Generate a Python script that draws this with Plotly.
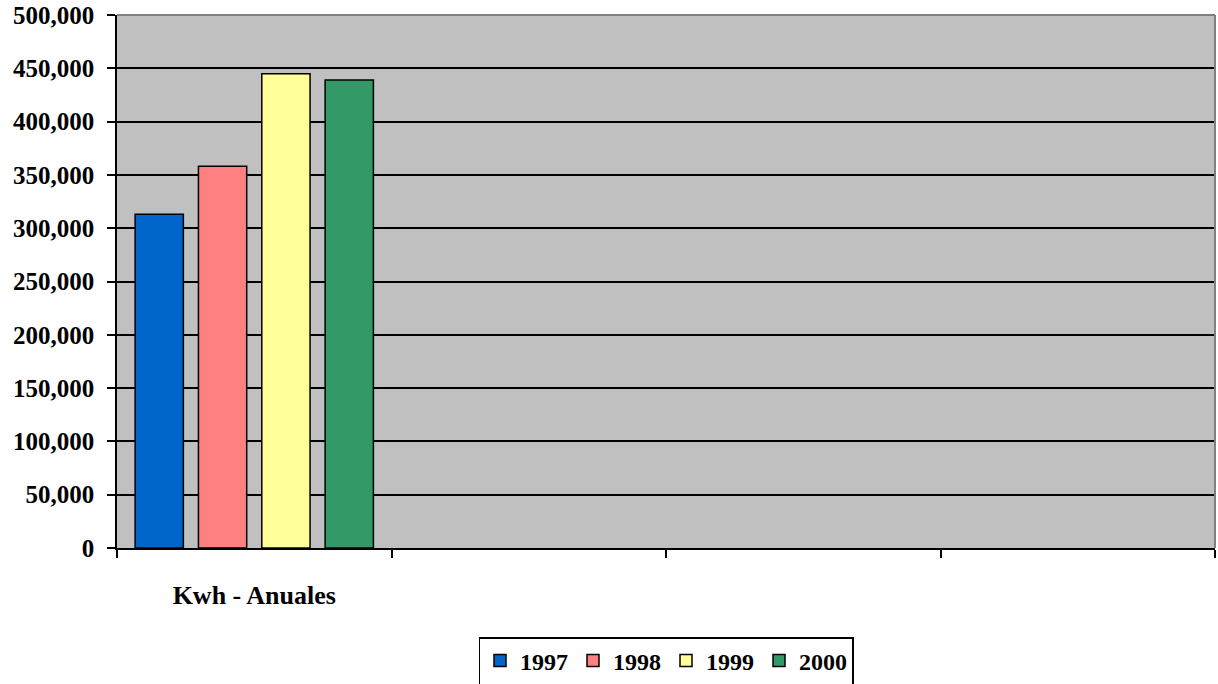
import plotly.graph_objects as go

categories = ["Kwh - Anuales", " ", "  ", "   "]
years = ["1997", "1998", "1999", "2000"]
values = [313000, 358000, 444800, 439000]
colors = ["#0066CC", "#FF8080", "#FFFF99", "#339966"]

FONT = "Liberation Serif, Times New Roman, serif"

fig = go.Figure()
for yr, v, c in zip(years, values, colors):
    fig.add_trace(go.Bar(
        x=[categories[0]], y=[v], name=yr,
        marker=dict(color=c, line=dict(color="black", width=1.5)),
    ))

fig.update_layout(
    width=1218, height=684,
    margin=dict(l=117, r=3, t=15, b=136, autoexpand=False),
    paper_bgcolor="white", plot_bgcolor="#C0C0C0",
    barmode="group", bargap=0.077, bargroupgap=0.238,
    font=dict(family=FONT, size=24, color="black", weight="bold"),
    legend=dict(orientation="h", x=0.5, xanchor="center", y=-0.167, yanchor="top",
                bordercolor="black", borderwidth=1.5, bgcolor="white",
                font=dict(family=FONT, size=24, color="black", weight="bold"),
                itemwidth=30, tracegroupgap=0),
    showlegend=True,
)
fig.update_xaxes(
    type="category", categoryorder="array", categoryarray=categories,
    range=[-0.5, 3.5], tickson="boundaries", ticks="outside", ticklen=8,
    tickcolor="black", tickwidth=1.5, automargin=False,
    showline=True, linecolor="black", linewidth=1.5, showgrid=False,
    ticklabelstandoff=23,
    tickfont=dict(family=FONT, size=26, color="black", weight="bold"),
)
fig.update_yaxes(
    range=[0, 500000], dtick=50000, tickformat=",",
    ticks="outside", ticklen=8, tickcolor="black", tickwidth=1.5, automargin=False,
    showline=True, linecolor="black", linewidth=1.5,
    showgrid=True, gridcolor="black", gridwidth=1.5, zeroline=False,
    ticklabelstandoff=8,
    tickfont=dict(family=FONT, size=25, color="black", weight="bold"),
)
fig.add_shape(type="line", xref="paper", yref="paper", x0=0, x1=1, y0=1, y1=1,
              line=dict(color="#808080", width=2), layer="above")
fig.add_shape(type="line", xref="paper", yref="paper", x0=1, x1=1, y0=0, y1=1,
              line=dict(color="#808080", width=2), layer="above")

fig.write_html("out.html", config={"displayModeBar": False},
               post_script="document.body.style.margin='0';document.body.style.overflow='hidden';")
